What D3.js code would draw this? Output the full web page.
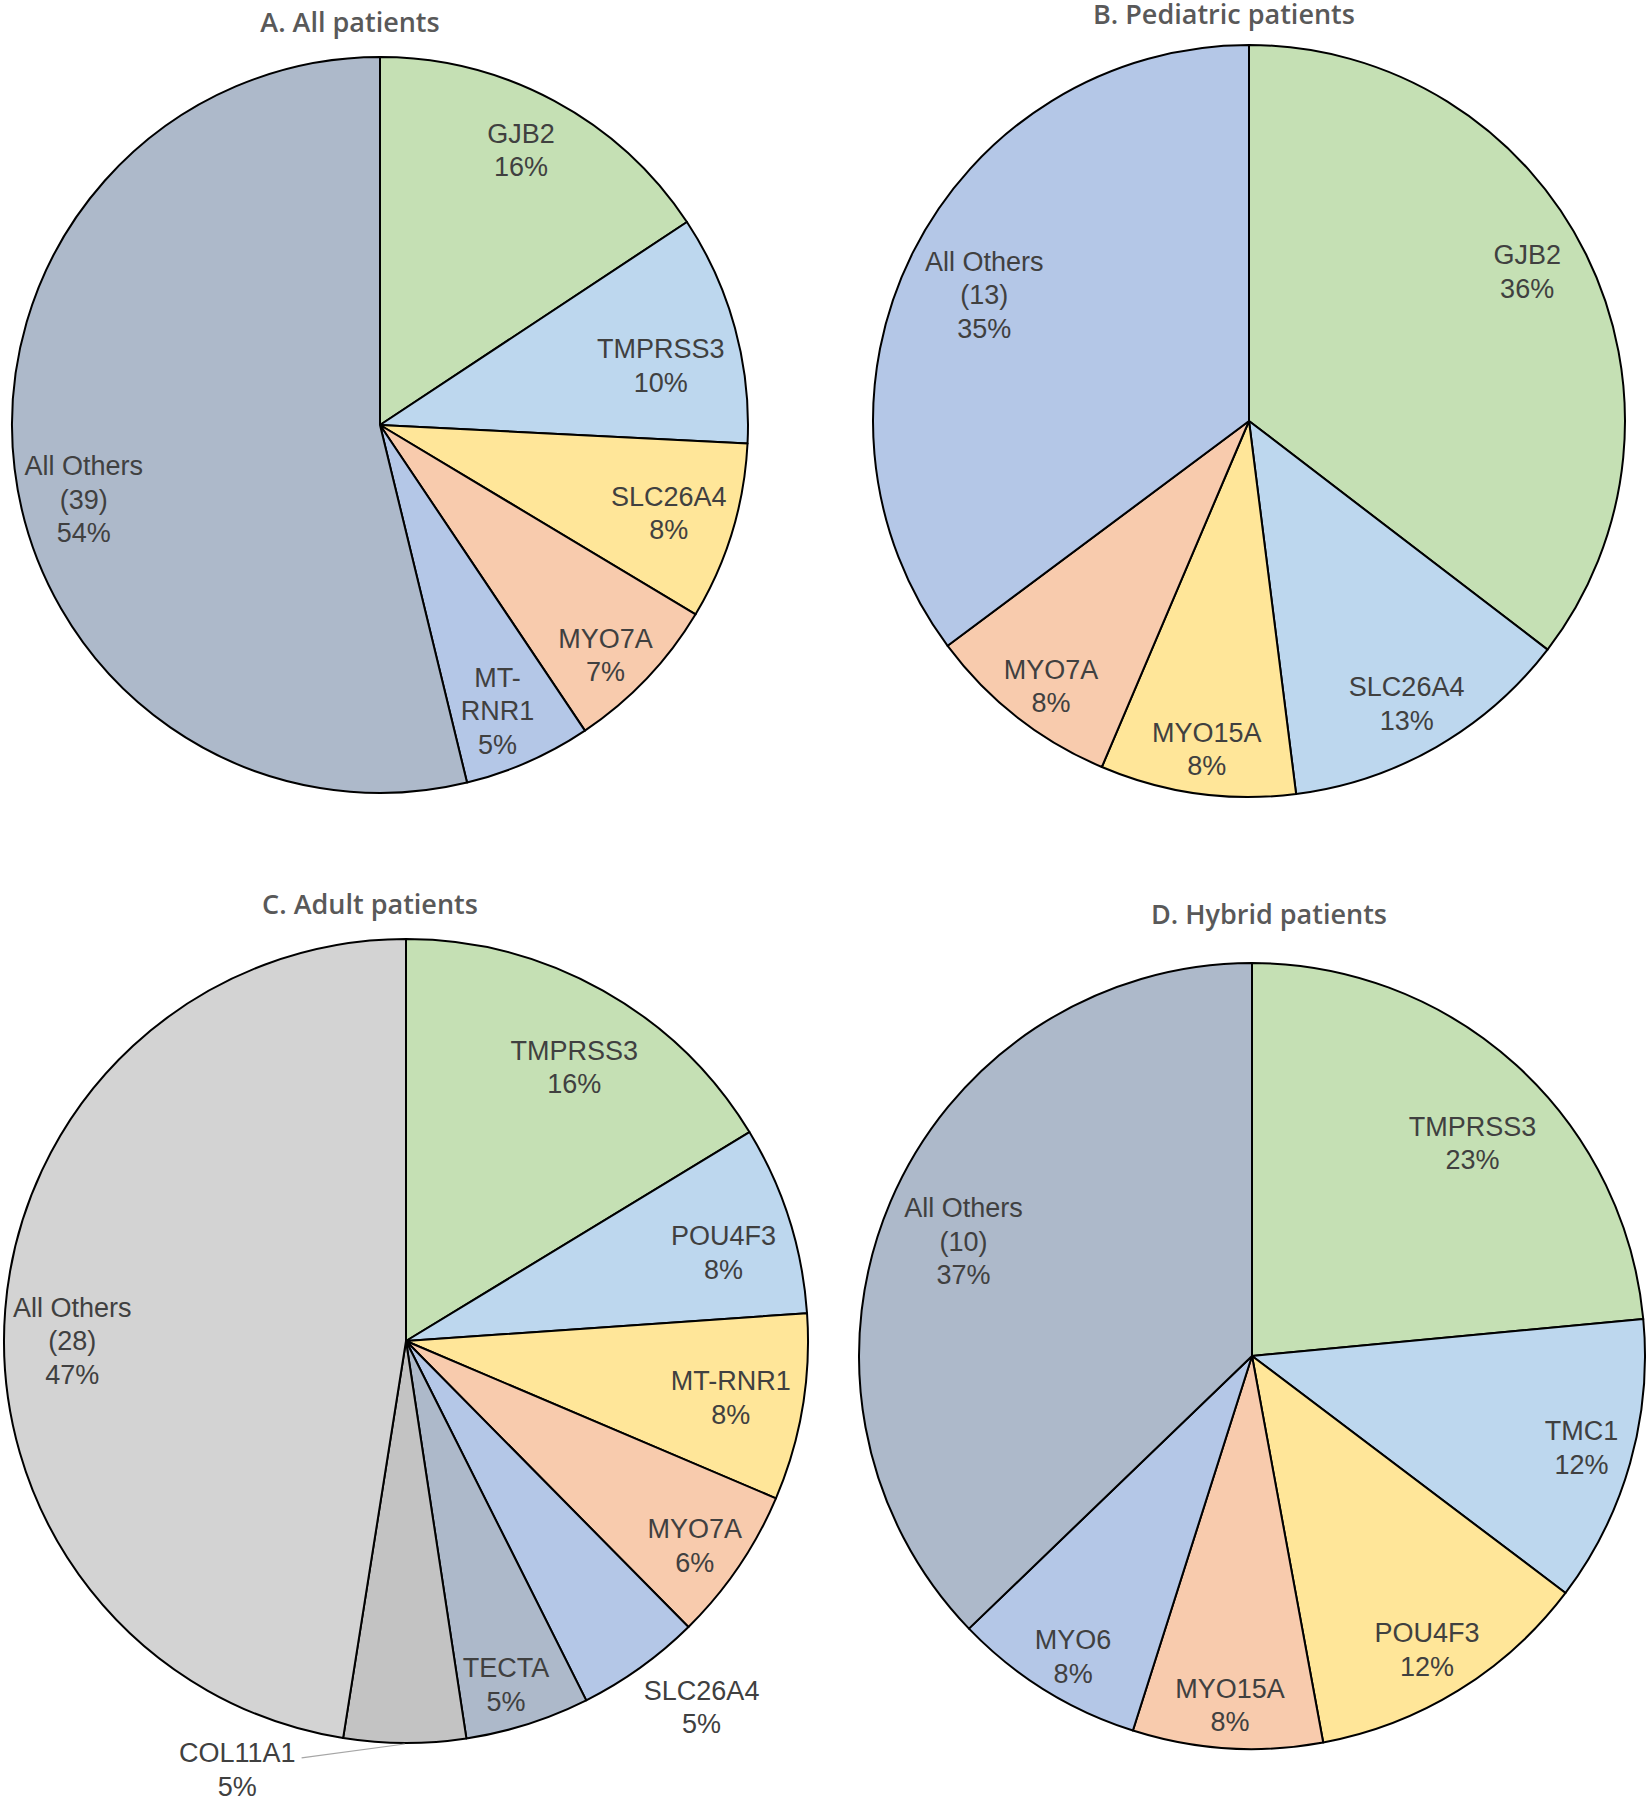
<!DOCTYPE html>
<html>
<head>
<meta charset="utf-8">
<script src="https://cdn.jsdelivr.net/npm/d3@7"></script>
<style>
  body { margin: 0; background: #fff; }
  svg { display: block; }
</style>
</head>
<body>
<div id="chart"></div>
<script>
// ---- data (clockwise from 12 o'clock) ----
var genesA = ["GJB2", "TMPRSS3", "SLC26A4", "MYO7A", "MT-RNR1", "All Others (39)"];
var sizeA  = [15.7, 10.1, 7.8, 7.0, 5.6, 53.8];
var pctA   = [16, 10, 8, 7, 5, 54];

var genesB = ["GJB2", "SLC26A4", "MYO15A", "MYO7A", "All Others (13)"];
var sizeB  = [35.4, 12.6, 8.4, 8.4, 35.2];
var pctB   = [36, 13, 8, 8, 35];

var genesC = ["TMPRSS3", "POU4F3", "MT-RNR1", "MYO7A", "SLC26A4", "TECTA", "COL11A1", "All Others (28)"];
var sizeC  = [16.3, 7.6, 7.5, 6.2, 5.0, 5.0, 4.9, 47.5];
var pctC   = [16, 8, 8, 6, 5, 5, 5, 47];

var genesD = ["TMPRSS3", "TMC1", "POU4F3", "MYO15A", "MYO6", "All Others (10)"];
var sizeD  = [23.5, 11.8, 11.8, 7.8, 7.9, 37.2];
var pctD   = [23, 12, 12, 8, 8, 37];

var titles = ["A. All patients", "B. Pediatric patients", "C. Adult patients", "D. Hybrid patients"];

// ---- styling ----
var green = "#c5e0b4", ltblue = "#bdd7ee", yellow = "#ffe699", orange = "#f8cbad",
    blue = "#b4c7e7", slate = "#adb9ca", grey = "#c3c3c3", ltgrey = "#d3d3d3";

var colorsA = [green, ltblue, yellow, orange, blue, slate];
var colorsB = [green, ltblue, yellow, orange, blue];
var colorsC = [green, ltblue, yellow, orange, blue, slate, grey, ltgrey];
var colorsD = [green, ltblue, yellow, orange, blue, slate];

// label placement: [fraction of radius, angle nudge in degrees]
var labA = [[0.84, -1.1], [0.78, 3.3], [0.82, 0], [0.875, 2], [0.84, 1.4], [0.83, -7.2]];
var labB = [[0.84, -2], [0.86, 0.7], [0.88, -0.6], [0.88, -1.4], [0.78, -1.2]];
var labC = [[0.80, 2.2], [0.82, 2.1], [0.82, 0.3], [0.88, 1.1], [1.17, -3.3], [0.89, 1.4], [1.146, 21.3], [0.83, -4.5]];
var labD = [[0.78, 3.7], [0.87, -0.3], [0.87, 0.9], [0.89, 0], [0.89, -1.1], [0.79, -1.4]];

var wrapA = {"MT-RNR1": ["MT-", "RNR1"]};

var W = 1650, H = 1800;
var labelFont = "'Liberation Sans', Arial, Helvetica, sans-serif";
var titleFont = "'Open Sans', 'Noto Sans', sans-serif";

var svg = d3.select("#chart").append("svg")
    .attr("width", W)
    .attr("height", H);

var panels = [
    {title: titles[0], tx: 350, ty: 32, cx: 380, cy: 425, r: 368, genes: genesA, size: sizeA, pct: pctA, colors: colorsA, lab: labA, wrap: wrapA},
    {title: titles[1], tx: 1224, ty: 24, cx: 1249, cy: 421, r: 376, genes: genesB, size: sizeB, pct: pctB, colors: colorsB, lab: labB, wrap: {}},
    {title: titles[2], tx: 370, ty: 914, cx: 406, cy: 1341, r: 402, genes: genesC, size: sizeC, pct: pctC, colors: colorsC, lab: labC, wrap: {}, leader: "COL11A1"},
    {title: titles[3], tx: 1269, ty: 924, cx: 1252, cy: 1356, r: 393, genes: genesD, size: sizeD, pct: pctD, colors: colorsD, lab: labD, wrap: {}}
];

function labelLines(name, p, wrap) {
    var lines;
    if (wrap[name]) lines = wrap[name].slice();
    else if (name.indexOf(" (") > 0) lines = [name.slice(0, name.indexOf(" (")), name.slice(name.indexOf(" (") + 1)];
    else lines = [name];
    lines.push(p + "%");
    return lines;
}

panels.forEach(function(pn) {
    var data = pn.genes.map(function(g, i) { return {gene: g, v: pn.size[i], p: pn.pct[i]}; });

    var pie = d3.pie().sort(null).value(d => d.v);
    var arc = d3.arc().innerRadius(0).outerRadius(pn.r);
    var arcs = pie(data);

    svg.append("text")
        .attr("x", pn.tx)
        .attr("y", pn.ty)
        .attr("text-anchor", "middle")
        .style("font-family", titleFont)
        .style("font-size", "27px")
        .style("font-weight", 600)
        .style("fill", "#595959")
        .text(pn.title);

    var g = svg.append("g")
        .attr("transform", "translate(" + pn.cx + "," + pn.cy + ")");

    g.selectAll("path.slice")
        .data(arcs)
        .enter()
        .append("path")
        .attr("class", "slice")
        .attr("d", arc)
        .style("fill", d => pn.colors[d.index])
        .style("stroke", "#000")
        .style("stroke-width", 2)
        .style("stroke-linejoin", "round");

    var lh = 33.5;
    arcs.forEach(function(d) {
        var mid = (d.startAngle + d.endAngle) / 2;
        var lp = pn.lab[d.index];
        var a = mid + lp[1] * Math.PI / 180;
        var x = Math.sin(a) * pn.r * lp[0];
        var y = -Math.cos(a) * pn.r * lp[0];
        var lines = labelLines(d.data.gene, d.data.p, pn.wrap);

        var t = g.append("text")
            .attr("text-anchor", "middle")
            .style("font-family", labelFont)
            .style("font-size", "27px")
            .style("fill", "#404040");

        lines.forEach(function(s, k) {
            t.append("tspan")
                .attr("x", x)
                .attr("y", y + (k - (lines.length - 1) / 2) * lh)
                .attr("dy", "0.35em")
                .text(s);
        });

        if (pn.leader == d.data.gene) {
            var w = t.select("tspan").node().getComputedTextLength();
            var y0 = y - (lines.length - 1) / 2 * lh;
            g.append("line")
                .attr("x1", Math.sin(mid) * pn.r)
                .attr("y1", -Math.cos(mid) * pn.r + 1)
                .attr("x2", x + w / 2 + 6)
                .attr("y2", y0 + 5)
                .style("stroke", "#a6a6a6")
                .style("stroke-width", 1.2);
        }
    });
});
</script>
</body>
</html>
